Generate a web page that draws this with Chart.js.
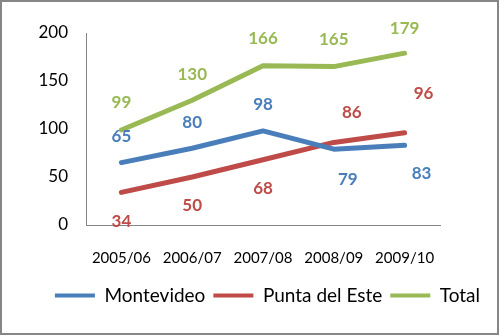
<!DOCTYPE html>
<html>
<head>
<meta charset="utf-8">
<script src="https://cdn.jsdelivr.net/npm/chart.js@4.4.0/dist/chart.umd.min.js"></script>
<style>
  html, body { margin: 0; padding: 0; background: #fff; }
  #frame { width: 499px; height: 335px; box-sizing: border-box; border: 2px solid #868686; }
  #chart { display: block; }
</style>
</head>
<body>
<div id="frame"><canvas id="chart" width="495" height="331"></canvas></div>
<script>
// Data
const seasons = ['2005/06', '2006/07', '2007/08', '2008/09', '2009/10'];
const montevideo = [65, 80, 98, 79, 83];
const puntaDelEste = [34, 50, 68, 86, 96];
const total = [99, 130, 166, 165, 179];
const yTicks = [0, 50, 100, 150, 200];

// where each value label sits relative to its point [dx, dy]
const montevideoLabelPos = [[0, -26], [0, -26], [0, -26], [14, 30], [17, 28]];
const puntaLabelPos = [[0, 29], [0, 29], [0, 29], [18, -30], [19, -39]];
const totalLabelPos = [[0, -27], [0, -26], [0, -27], [0, -27], [0, -25]];

const FONT = 'Lato, "Open Sans", sans-serif';

const valueLabels = {
    id: 'valueLabels',
    afterDatasetsDraw(chart) {
        const ctx = chart.ctx;
        ctx.save();
        ctx.font = 'bold 17px ' + FONT;
        ctx.textAlign = 'center';
        ctx.textBaseline = 'middle';
        chart.data.datasets.forEach((ds, i) => {
            const meta = chart.getDatasetMeta(i);
            ctx.fillStyle = ds.borderColor;
            meta.data.forEach((pt, j) => {
                const off = ds.labelPos[j];
                ctx.fillText(ds.data[j], pt.x + off[0], pt.y + off[1]);
            });
        });
        ctx.restore();
    }
};

const line = (label, data, color, labelPos) => ({
    label: label,
    data: data,
    borderColor: color,
    backgroundColor: color,
    borderWidth: 5,
    pointRadius: 0,
    tension: 0,
    borderJoinStyle: 'round',
    borderCapStyle: 'round',
    labelPos: labelPos
});

new Chart(document.getElementById('chart'), {
    type: 'line',
    data: {
        labels: seasons,
        datasets: [
            line('Montevideo', montevideo, '#4A7EBB', montevideoLabelPos),
            line('Punta del Este', puntaDelEste, '#BE4B48', puntaLabelPos),
            line('Total', total, '#98B954', totalLabelPos)
        ]
    },
    options: {
        responsive: false,
        animation: false,
        layout: { padding: { top: 31, right: 9, left: 0, bottom: 18 } },
        plugins: {
            tooltip: { enabled: false },
            legend: {
                position: 'bottom',
                align: 'end',
                labels: {
                    color: '#000',
                    font: { family: FONT, size: 19 },
                    boxWidth: 40,
                    boxHeight: 4,
                    padding: 8,
                    generateLabels: chart => Chart.defaults.plugins.legend.labels.generateLabels(chart)
                        .map(item => Object.assign(item, { lineWidth: 0 }))
                }
            }
        },
        scales: {
            x: {
                offset: true,
                grid: { display: false, drawTicks: false },
                border: { display: true, color: '#868686' },
                ticks: { color: '#000', font: { family: FONT, size: 15 }, padding: 24, maxRotation: 0 },
                afterFit: s => { s.height = 53; }
            },
            y: {
                min: 0,
                max: 200,
                afterBuildTicks: s => { s.ticks = yTicks.map(v => ({ value: v })); },
                grid: { display: false, drawTicks: false },
                border: { display: true, color: '#868686' },
                ticks: { color: '#000', font: { family: FONT, size: 17 }, padding: 18 },
                afterFit: s => { s.width = 84; }
            },
            // empty right-hand axis, only to leave the blank space right of the plot
            yRight: {
                position: 'right',
                grid: { display: false, drawTicks: false },
                border: { display: false },
                ticks: { display: false },
                afterFit: s => { s.width = 48; }
            }
        }
    },
    plugins: [valueLabels]
});
</script>
</body>
</html>
